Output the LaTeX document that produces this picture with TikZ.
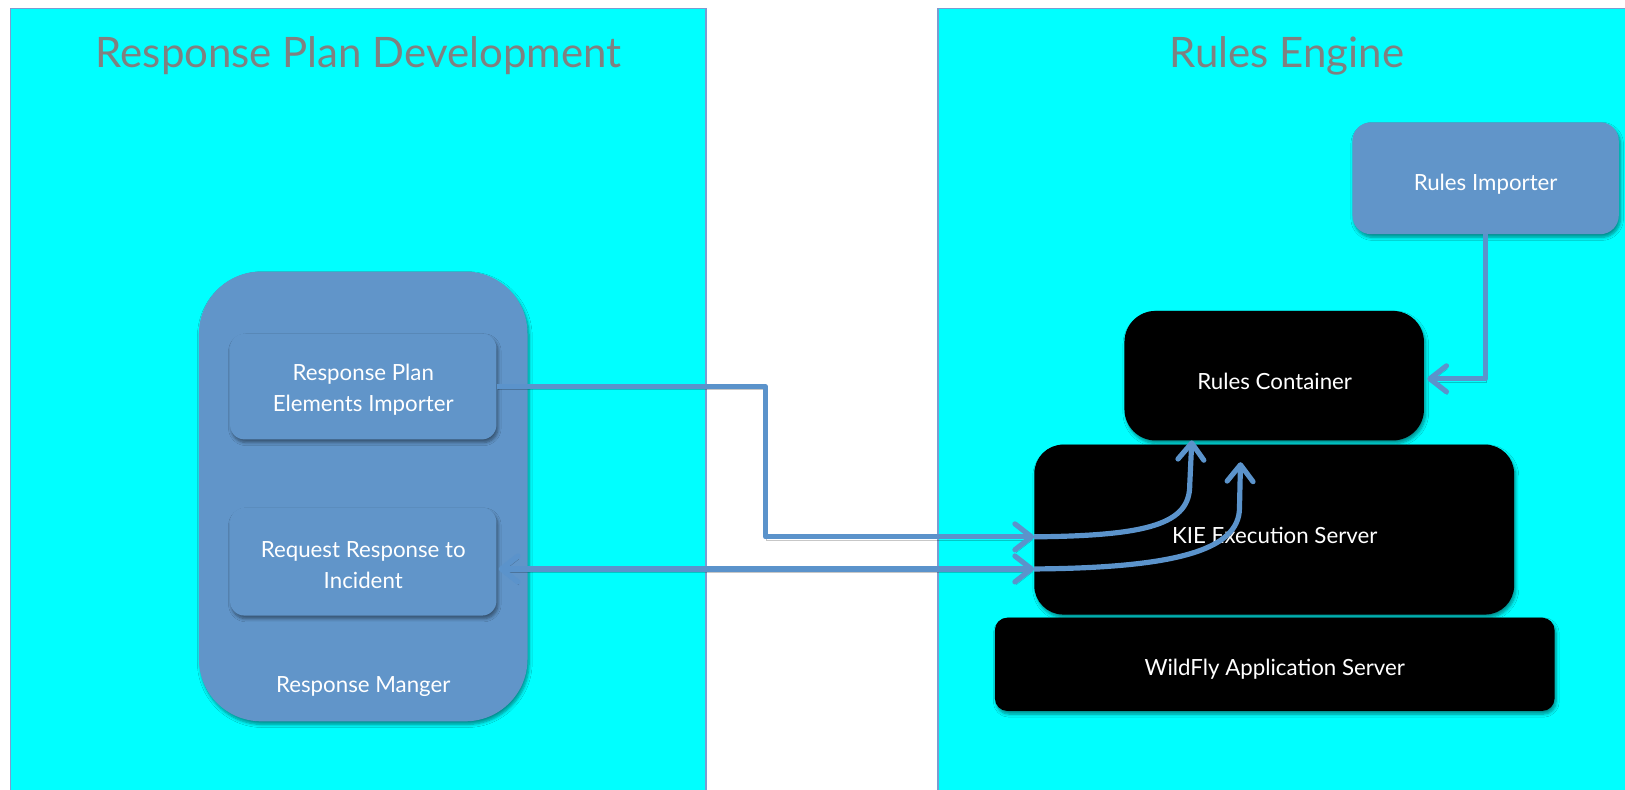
\documentclass[tikz,border=0pt]{standalone}
\usepackage{fontspec}
\setmainfont{Lato}
\usetikzlibrary{arrows.meta,calc,shadows.blur}
\definecolor{panelcyan}{HTML}{00FFFF}
\definecolor{steel}{HTML}{6195C9}
\definecolor{linkblue}{HTML}{5B93CB}
\definecolor{titlegray}{HTML}{808080}
\definecolor{paneledge}{HTML}{7C9CD0}
\begin{document}
\begin{tikzpicture}[x=1pt,y=-1pt,
  panel/.style={draw=paneledge, line width=1.5pt, fill=panelcyan},
  paneltitle/.style={text=titlegray, font=\fontsize{40.5}{42}\selectfont, inner sep=0pt},
  boxshadow/.style={blur shadow={shadow xshift=1.5pt, shadow yshift=-3pt,
      shadow blur steps=6, shadow blur radius=3pt, shadow opacity=45}},
  bluebox/.style={fill=steel, rounded corners=#1, inner sep=0pt, boxshadow},
  blackbox/.style={fill=black, rounded corners=#1, inner sep=0pt, boxshadow},
  boxtext/.style={text=white, align=center, inner sep=0pt,
      font=\fontsize{21.5}{30}\selectfont},
  tip/.tip={Straight Barb[length=16pt,width=25pt,round]},
  conn/.style={draw=linkblue, line width=5pt, line join=round,
      preaction={draw=black, opacity=0.22,
        transform canvas={xshift=1pt,yshift=-3pt}}},
]
\clip (0,0) rectangle (1568,762);
\fill[white] (0,0) rectangle (1568,762);

% the two panels
\draw[panel] (10,8) rectangle (681,790);
\draw[panel] (905,8) rectangle (1600,790);
\node[paneltitle] (ttlA) at (346,54) {Response Plan Development};
\node[paneltitle] (ttlB) at (1242,54) {Rules Engine};

% response manager and its parts
\node[bluebox=60, minimum width=317, minimum height=434] (rm) at (350.5,479) {};
\node[boxtext] (rmlabel) at (350.5,662) {Response Manger};
\node[bluebox=14, minimum width=257, minimum height=102] (rpei) at (350.5,373) {};
\node[boxtext] (rpeilabel) at (350.5,376) {Response Plan\\Elements Importer};
\node[bluebox=14, minimum width=257, minimum height=104] (rri) at (350.5,542) {};
\node[boxtext] (rrilabel) at (350.5,545) {Request Response to\\Incident};

% rules engine stack
\node[bluebox=18, minimum width=257, minimum height=108] (ri) at (1433.5,172) {};
\node[boxtext] (rilabel) at (1433.5,177.5) {Rules Importer};
\node[blackbox=12, minimum width=540, minimum height=90] (wf) at (1230,641) {};
\node[boxtext] (wflabel) at (1230,646) {WildFly Application Server};
\node[blackbox=28, minimum width=463, minimum height=164] (kie) at (1229.5,511) {};
\node[boxtext] (kielabel) at (1230,517) {KIE Execution Server};
\node[blackbox=30, minimum width=289, minimum height=125] (rc) at (1229.5,362.5) {};
\node[boxtext] (rclabel) at (1230,368) {Rules Container};

% anchor points of the connectors
\coordinate (kin1) at (kie.west |- 0,518);
\coordinate (kin2) at (kie.west |- 0,549);
\coordinate (rrout) at ($(rri.east)+(2,7)$);
\coordinate (rctip1) at (1150,425);
\coordinate (rctip2) at (1197,446);
\coordinate (turn1) at ($(rpei.east)!.5!(kin1)$);

% connectors
\draw[conn,-tip] (rpei.east) -| (turn1) |- (kin1);
\draw[conn,tip-tip] (rrout) -- (kin2);
\draw[conn,-tip] (ri.south) |- ($(rc.east)+(3,3)$);
\draw[conn,-tip] (kin1) .. controls (1110,517) and (1148,505) .. (1148,468) -- (rctip1);
\draw[conn,-tip] (kin2) .. controls (1130,548) and (1196,532) .. (1196,490) -- (rctip2);
\end{tikzpicture}
\end{document}
